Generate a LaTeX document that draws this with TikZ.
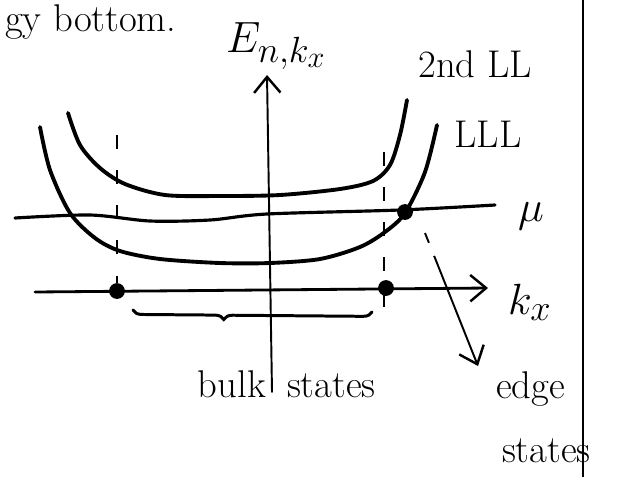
\documentclass[tikz,border=0pt]{standalone}
\usetikzlibrary{arrows.meta,positioning,decorations.pathreplacing}

\begin{document}
\begin{tikzpicture}[x=0.02cm, y=-0.02cm,
    band/.style={line width=2.2pt, line cap=round, line join=round},
    axis/.style={line width=1.6pt, line cap=round},
    guide/.style={line width=1.4pt, dash pattern=on 8pt off 12pt},
    lbl/.style={font=\fontsize{22}{26}\selectfont, inner sep=1pt},
    spot/.style={circle, fill=black, inner sep=0pt, minimum size=9pt},
    barb/.style={-{Straight Barb[length=9pt, width=15pt, line width=1.4pt]}}
]
    \useasboundingbox (0,0) rectangle (634,477);

    % heading at the top of the page
    \node[lbl, anchor=base west] (head) at (3,31) {gy bottom.};

    % page border on the right
    \coordinate (rimtop) at (583,0);
    \coordinate (rimbot) at (583,477);
    \draw[line width=1.2pt] (rimtop) -- (rimbot);

    % energy axis
    \coordinate (Ebot) at (272,392);
    \coordinate (Etop) at (267,75);
    \draw[axis, line width=1.1pt, barb] (Ebot) -- (Etop);
    \node[lbl, font=\Huge, anchor=base west] (Elabel) at (224,52) {$E_{n,k_x}$};

    % momentum axis
    \coordinate (kleft) at (35,292);
    \coordinate (kright) at (488,288);
    \draw[axis, barb] (kleft) -- (kright);
    \node[lbl, font=\fontsize{32}{38}\selectfont, anchor=base west] (klabel) at (506,314) {$k_x$};

    % chemical potential
    \draw[axis, line width=1.8pt] plot[smooth] coordinates
        {(15,218) (90,215) (150,221) (210,220) (267,214) (400,210) (495,205)};
    \node[lbl, font=\fontsize{34}{40}\selectfont, anchor=base west] (mulabel) at (516,221) {$\mu$};

    % Landau levels
    \draw[band] plot[smooth] coordinates
        {(68,113) (80,145) (100,168) (125,184) (165,195) (220,196) (280,195)
         (340,189) (373,181) (390,165) (400,135) (407,100)};
    \draw[band] plot[smooth] coordinates
        {(40,127) (50,170) (70,213) (95,238) (120,251) (160,259) (220,263)
         (270,263) (320,259) (360,247) (385,232) (405,213) (425,172) (437,125)};
    \node[lbl] (ll2) at (475,64) {2nd LL};
    \node[lbl] (lll) at (488,134) {LLL};

    % sample edges
    \node[spot] (leftk) at (117,291) {};
    \node[spot] (rightk) at (386,288) {};
    \node[spot] (mudot) at (405,212) {};
    \coordinate (lefttop) at (117,135);
    \coordinate (righttop) at (384,152);
    \coordinate (rightbot) at (384,326);
    \draw[guide] (lefttop) -- (leftk);
    \draw[guide] (righttop) -- (rightbot);

    % bulk states
    \draw[line width=1.7pt, line cap=round, decorate,
        decoration={brace, mirror, amplitude=5pt, aspect=0.38}]
        (133,310) -- (372,312);
    \node[lbl, anchor=base east] (bulk) at (268,397) {bulk};
    \node[lbl, anchor=base west] (bulkst) at (285,397) {states};

    % edge states
    \node[lbl, anchor=base west] (edge) at (494,398) {edge};
    \node[lbl, anchor=base west] (edgest) at (500,462) {states};
    \coordinate (edgefrom) at (425,233);
    \coordinate (edgeto) at (478,366);
    \draw[line width=1.1pt, dash pattern=on 6pt off 8pt on 200pt off 0pt, barb]
        (edgefrom) -- (edgeto);
\end{tikzpicture}
\end{document}
